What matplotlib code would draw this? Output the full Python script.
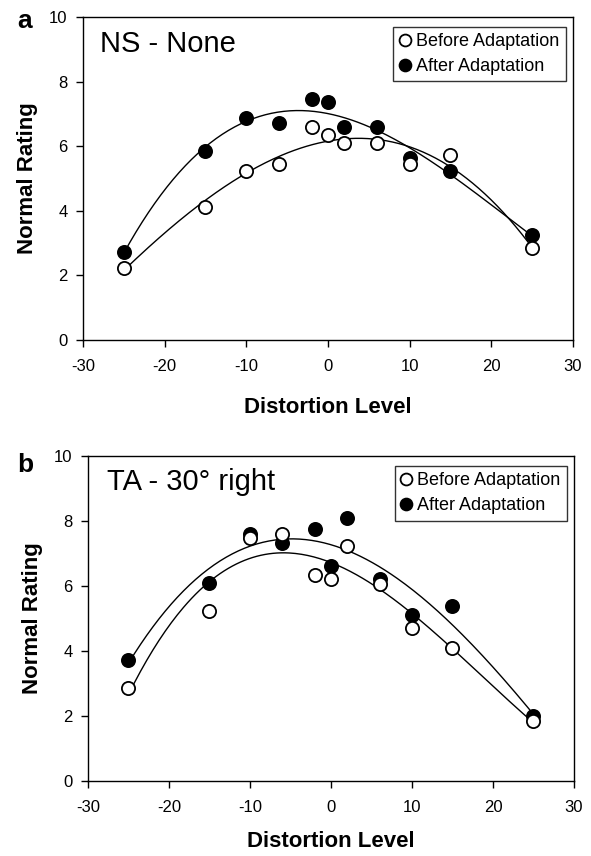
import numpy as np
import matplotlib.pyplot as plt

plt.rcParams['font.family'] = ['Liberation Sans', 'DejaVu Sans']
plt.rcParams['axes.unicode_minus'] = False

# distortion levels
levels = [-25, -15, -10, -6, -2, 0, 2, 6, 10, 15, 25]

# panel a : NS - None
a_before = [2.22, 4.11, 5.22, 5.46, 6.60, 6.35, 6.10, 6.10, 5.45, 5.73, 2.84]
a_after = [2.74, 5.84, 6.86, 6.72, 7.47, 7.36, 6.60, 6.60, 5.62, 5.22, 3.24]

# panel b : TA - 30 right
b_before = [2.85, 5.23, 7.49, 7.61, 6.35, 6.21, 7.23, 6.07, 4.72, 4.09, 1.85]
b_after = [3.72, 6.09, 7.61, 7.33, 7.74, 6.62, 8.10, 6.23, 5.12, 5.37, 2.00]

panels = [('a', 'NS - None', a_before, a_after,
           [0.1404, 0.6028, 0.829, 0.3773], 1 - 28/856, (0.035, 0.892), 16),
          ('b', 'TA - 30° right', b_before, b_after,
           [0.1489, 0.0876, 0.8223, 0.3797], 1 - 472/856, (0.039, 0.895), 11)]

fig = plt.figure(figsize=(5.91, 8.56), dpi=100)

for letter, title, before, after, rect, ly, tpos, xpad in panels:
    ax = fig.add_axes(rect)
    x = np.array(levels)
    xs = np.linspace(-25, 25, 200)
    # 3rd order trend lines
    for y in (before, after):
        p = np.polyfit(x, y, 3)
        ax.plot(xs, np.polyval(p, xs), color='black', lw=1.0, zorder=1)
    ax.plot(x, before, 'o', ms=9.5, mfc='white', mec='black', mew=1.3,
            ls='none', label='Before Adaptation', zorder=3)
    ax.plot(x, after, 'o', ms=9.5, mfc='black', mec='black', mew=1.3,
            ls='none', label='After Adaptation', zorder=2)
    ax.set_xlim(-30, 30)
    ax.set_ylim(0, 10)
    ax.set_xticks(np.arange(-30, 31, 10))
    ax.set_yticks(np.arange(0, 11, 2))
    ax.tick_params(direction='out', length=5, width=1, labelsize=12, colors='black')
    ax.tick_params(axis='x', pad=9)
    ax.tick_params(axis='y', pad=6)
    ax.set_xlabel('Distortion Level', fontsize=16, fontweight='bold', labelpad=xpad)
    ax.set_ylabel('Normal Rating', fontsize=16, fontweight='bold', labelpad=8)
    for s in ax.spines.values():
        s.set_linewidth(1.0)
    ax.text(tpos[0], tpos[1], title, transform=ax.transAxes, fontsize=21,
            va='baseline', ha='left')
    fig.text(17/591, ly, letter, fontsize=19, fontweight='bold',
             va='baseline', ha='left')
    leg = ax.legend(loc='upper right', fontsize=13, frameon=True, fancybox=False,
                    edgecolor='black', handlelength=0.6, handletextpad=0.3,
                    borderpad=0.35, labelspacing=0.45, markerscale=0.9,
                    borderaxespad=0.0, bbox_to_anchor=(0.985, 0.97))
    leg.get_frame().set_linewidth(1.0)

fig.savefig('out.png', dpi=100)
